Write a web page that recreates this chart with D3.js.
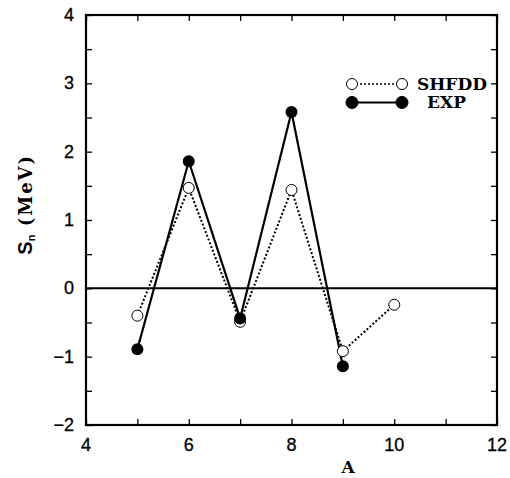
<!DOCTYPE html>
<html>
<head>
<meta charset="utf-8">
<script src="https://cdn.jsdelivr.net/npm/d3@7"></script>
<style>
  body { margin: 0; background: #fff; }
  svg { display: block; }
</style>
</head>
<body>
<div id="chart"></div>
<script>
// data
const massNumbers = [5, 6, 7, 8, 9, 10];
const shfddValues = [-0.40, 1.47, -0.49, 1.44, -0.92, -0.24];
const expMass = [5, 6, 7, 8, 9];
const expValues = [-0.89, 1.86, -0.44, 2.58, -1.14];
const xTicks = [4, 6, 8, 10, 12];
const yTicks = [-2, -1, 0, 1, 2, 3, 4];
const legendLabels = ["SHFDD", "EXP"];

const width = 510, height = 478;
const margin = { left: 86, right: 13, top: 15, bottom: 53 };

const svg = d3.select("#chart").append("svg")
  .attr("width", width).attr("height", height);

const x = d3.scaleLinear().domain([4, 12]).range([margin.left, width - margin.right]);
const y = d3.scaleLinear().domain([-2, 4]).range([height - margin.bottom, margin.top]);

const tickFont = "'Liberation Sans', Arial, sans-serif";
const serifBold = "'DejaVu Serif', serif";

// inner ticks on all four sides
function addAxis(axisGen, tx, ty) {
  const g = svg.append("g").attr("transform", `translate(${tx},${ty})`).call(axisGen);
  g.select(".domain").remove();
  g.selectAll("text").remove();
  g.selectAll("line").attr("stroke", "#000").attr("stroke-width", 1.3);
  return g;
}
const xMinor = d3.range(4, 12.01, 1);
const yMinor = d3.range(-2, 4.01, 0.5);
addAxis(d3.axisBottom(x).tickValues(xMinor).tickSize(-6), 0, y(-2));
addAxis(d3.axisTop(x).tickValues(xMinor).tickSize(-6), 0, y(4));
addAxis(d3.axisLeft(y).tickValues(yMinor).tickSize(-6), x(4), 0);
addAxis(d3.axisRight(y).tickValues(yMinor).tickSize(-6), x(12), 0);

// frame
svg.append("rect")
  .attr("x", x(4)).attr("y", y(4))
  .attr("width", x(12) - x(4)).attr("height", y(-2) - y(4))
  .attr("fill", "none").attr("stroke", "#000").attr("stroke-width", 2.2);

// zero line
svg.append("line")
  .attr("x1", x(4)).attr("x2", x(12)).attr("y1", y(0)).attr("y2", y(0))
  .attr("stroke", "#000").attr("stroke-width", 2);

// tick labels
const fmt = v => (v < 0 ? "\u2212" + Math.abs(v) : String(v));
svg.append("g").selectAll("text").data(xTicks).enter().append("text")
  .attr("x", d => x(d)).attr("y", y(-2) + 26)
  .attr("text-anchor", "middle")
  .attr("font-family", tickFont).attr("font-size", 18)
  .attr("stroke", "#000").attr("stroke-width", 0.3)
  .text(fmt);
svg.append("g").selectAll("text").data(yTicks).enter().append("text")
  .attr("x", x(4) - 12).attr("y", d => y(d) + 6)
  .attr("text-anchor", "end")
  .attr("font-family", tickFont).attr("font-size", 18)
  .attr("stroke", "#000").attr("stroke-width", 0.3)
  .text(fmt);

// axis titles
svg.append("text")
  .attr("x", x(9.1)).attr("y", height - 5)
  .attr("text-anchor", "middle")
  .attr("font-family", serifBold).attr("font-weight", "bold").attr("font-size", 17)
  .text("A");

const yTitle = svg.append("text")
  .attr("transform", `translate(32,${y(1.23)}) rotate(-90)`)
  .attr("text-anchor", "middle")
  .attr("font-family", serifBold).attr("font-weight", "bold").attr("font-size", 18);
yTitle.append("tspan").attr("font-family", tickFont).attr("font-size", 20).text("S");
yTitle.append("tspan").attr("font-family", tickFont).attr("font-size", 11).attr("dy", 3).text("n");
yTitle.append("tspan").attr("dy", -3).attr("letter-spacing", 2).text(" (MeV)");

// series
const line = d3.line().x(d => x(d[0])).y(d => y(d[1]));
const shfdd = massNumbers.map((a, i) => [a, shfddValues[i]]);
const exp = expMass.map((a, i) => [a, expValues[i]]);

svg.append("path").datum(shfdd).attr("d", line)
  .attr("fill", "none").attr("stroke", "#000").attr("stroke-width", 2)
  .attr("stroke-dasharray", "2,2");
svg.append("path").datum(exp).attr("d", line)
  .attr("fill", "none").attr("stroke", "#000").attr("stroke-width", 2.2);

svg.append("g").selectAll("circle").data(shfdd).enter().append("circle")
  .attr("cx", d => x(d[0])).attr("cy", d => y(d[1])).attr("r", 5.5)
  .attr("fill", "#fff").attr("stroke", "#000").attr("stroke-width", 1);
svg.append("g").selectAll("circle").data(exp).enter().append("circle")
  .attr("cx", d => x(d[0])).attr("cy", d => y(d[1])).attr("r", 6)
  .attr("fill", "#000");

// legend
const legY = [y(2.99), y(2.72)];
const lx1 = 352, lx2 = 402;
legendLabels.forEach((lab, i) => {
  const g = svg.append("g");
  g.append("line").attr("x1", lx1).attr("x2", lx2).attr("y1", legY[i]).attr("y2", legY[i])
    .attr("stroke", "#000").attr("stroke-width", i === 0 ? 1.6 : 2)
    .attr("stroke-dasharray", i === 0 ? "2,2" : null);
  [lx1, lx2].forEach(cx => {
    g.append("circle").attr("cx", cx).attr("cy", legY[i]).attr("r", i === 0 ? 5.5 : 6)
      .attr("fill", i === 0 ? "#fff" : "#000")
      .attr("stroke", "#000").attr("stroke-width", 1);
  });
  g.append("text").attr("x", i === 0 ? 417 : 427).attr("y", legY[i] + 6)
    .attr("font-family", serifBold).attr("font-weight", "bold").attr("font-size", 17)
    .text(lab);
});
</script>
</body>
</html>
